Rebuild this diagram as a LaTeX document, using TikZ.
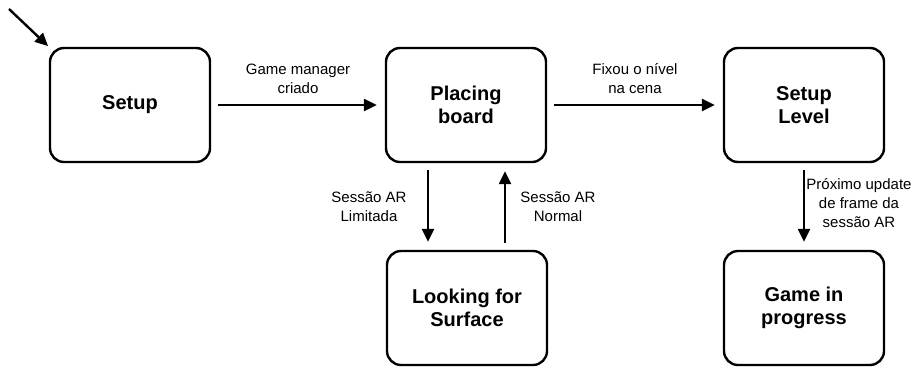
\documentclass[tikz,border=0pt]{standalone}
\usepackage{fontspec}
\setmainfont{Liberation Sans}
\usetikzlibrary{arrows.meta,calc}
\begin{document}
\begin{tikzpicture}[x=1pt,y=-1pt,
  state/.style={draw, line width=2.4pt, rounded corners=14pt, minimum width=160pt, minimum height=114pt, align=center, font=\fontsize{20}{23}\selectfont\bfseries},
  trans/.style={line width=2.4pt, -{Triangle[length=13pt,width=12pt]}, shorten >=8pt, shorten <=7pt},
  lbl/.style={align=center, font=\fontsize{15}{19}\selectfont, inner sep=0pt}]
\useasboundingbox (0,0) rectangle (923,368);
\node[state] (setup) at (130,105) {Setup};
\node[state] (placing) at (466,105) {Placing\\board};
\node[state] (level) at (804,105) {Setup\\Level};
\node[state] (looking) at (467,308) {Looking for\\Surface};
\node[state] (game) at (804,308) {Game in\\progress};
\coordinate (start) at (9,9);
\coordinate (d1) at ($(placing.south)+(-38,0)$);
\coordinate (d2) at (d1 |- looking.north);
\coordinate (u1) at ($(placing.south)+(39,0)$);
\coordinate (u2) at (u1 |- looking.north);
\draw[line width=2.4pt, -{Triangle[length=13pt,width=12pt]}, shorten >=1pt] (start) -- (setup.north west);
\draw[trans] (setup.east) -- (placing.west) node[lbl, midway, yshift=26.5pt] {Game manager\\criado};
\draw[trans] (placing.east) -- (level.west) node[lbl, midway, yshift=26.5pt] {Fixou o nível\\na cena};
\draw[trans] (d1) -- (d2) node[lbl, midway, xshift=-59pt] {Sessão AR\\Limitada};
\draw[trans] (u2) -- (u1) node[lbl, midway, xshift=53pt] {Sessão AR\\Normal};
\draw[trans] (level.south) -- (game.north) node[lbl, midway, xshift=55pt, yshift=3pt] {Próximo update\\de frame da\\sessão AR};
\end{tikzpicture}
\end{document}
